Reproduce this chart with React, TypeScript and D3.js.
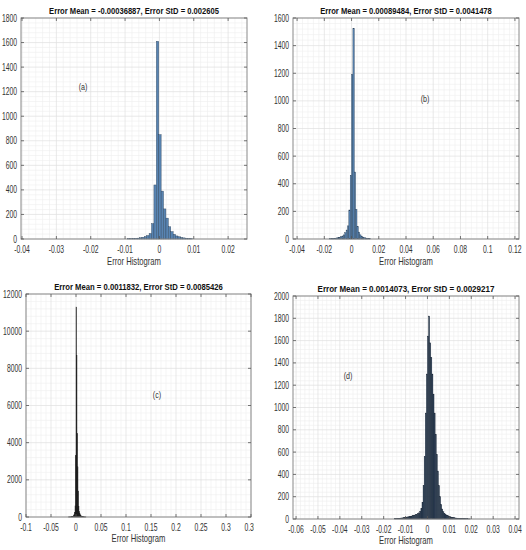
import React from 'react';
import * as d3 from 'd3';

// ---------- DATA ----------
// Panel (a)
const titleA = 'Error Mean = -0.00036887, Error StD = 0.002605';
const binStartA = -0.0093;
const binWidthA = 0.0007;
const countsA = [2, 3, 4, 5, 7, 10, 14, 20, 28, 45, 125, 440, 1610, 850, 390, 245, 170, 100, 60, 38, 25, 18, 13, 9, 6, 4, 2];
const xTicksA = [-0.04, -0.03, -0.02, -0.01, 0, 0.01, 0.02];
const xTickLabelsA = ['-0.04', '-0.03', '-0.02', '-0.01', '0', '0.01', '0.02'];
const yTicksA = [0, 200, 400, 600, 800, 1000, 1200, 1400, 1600, 1800];

// Panel (b)
const titleB = 'Error Mean = 0.00089484, Error StD = 0.0041478';
const binStartB = -0.016;
const binWidthB = 0.001;
const countsB = [2, 3, 4, 5, 6, 8, 10, 13, 17, 22, 30, 45, 65, 95, 210, 460, 1190, 1525, 485, 215, 90, 50, 30, 20, 14, 10, 7, 5, 3, 2];
const xTicksB = [-0.04, -0.02, 0, 0.02, 0.04, 0.06, 0.08, 0.1, 0.12];
const xTickLabelsB = ['-0.04', '-0.02', '0', '0.02', '0.04', '0.06', '0.08', '0.1', '0.12'];
const yTicksB = [0, 200, 400, 600, 800, 1000, 1200, 1400, 1600];

// Panel (c)
const titleC = 'Error Mean = 0.0011832, Error StD = 0.0085426';
const binStartC = -0.015;
const binWidthC = 0.001;
const countsC = [3, 4, 5, 6, 8, 10, 14, 20, 30, 45, 70, 120, 250, 600, 3300, 11300, 8700, 4500, 2700, 1400, 560, 300, 180, 120, 80, 55, 40, 28, 20, 14, 10, 7, 5, 4, 3];
const xTicksC = [-0.1, -0.05, 0, 0.05, 0.1, 0.15, 0.2, 0.25, 0.3, 0.35];
const xTickLabelsC = ['-0.1', '-0.05', '0', '0.05', '0.1', '0.15', '0.2', '0.25', '0.3', '0.35'];
const yTicksC = [0, 2000, 4000, 6000, 8000, 10000, 12000];

// Panel (d)
const titleD = 'Error Mean = 0.0014073, Error StD = 0.0029217';
const binStartD = -0.015;
const binWidthD = 0.0005;
const countsD = [4, 5, 5, 6, 7, 8, 9, 10, 11, 13, 15, 17, 19, 21, 24, 26, 29, 32, 35, 38, 42, 47, 55, 70, 95, 150, 300, 560, 950, 1300, 1640, 1820, 1580, 1450, 1300, 1120, 950, 760, 580, 430, 300, 200, 130, 90, 65, 50, 40, 34, 29, 25, 21, 18, 15, 13, 11, 9, 8, 7, 6, 5, 4, 4, 3, 3, 2, 2, 2, 1, 1];
const xTicksD = [-0.06, -0.05, -0.04, -0.03, -0.02, -0.01, 0, 0.01, 0.02, 0.03, 0.04];
const xTickLabelsD = ['-0.06', '-0.05', '-0.04', '-0.03', '-0.02', '-0.01', '0', '0.01', '0.02', '0.03', '0.04'];
const yTicksD = [0, 200, 400, 600, 800, 1000, 1200, 1400, 1600, 1800, 2000];

const xLabel = 'Error Histogram';
const panelLabels = ['(a)', '(b)', '(c)', '(d)'];

// ---------- LAYOUT ----------
const FONT = "'Liberation Sans', Arial, Helvetica, sans-serif";
const SX = 0.68;

let ctx: CanvasRenderingContext2D | null = null;
function measure(text: string, size: number, bold: boolean) {
  if (!ctx && typeof document !== 'undefined') {
    ctx = document.createElement('canvas').getContext('2d');
  }
  if (!ctx) return text.length * size * 0.55;
  ctx.font = `${bold ? 'bold ' : ''}${size}px 'Liberation Sans', Arial, sans-serif`;
  return ctx.measureText(text).width;
}

type Panel = {
  left: number; right: number; top: number; bottom: number;
  xDomain: [number, number]; yMax: number;
  title: string; titleLen: number; titleY: number;
  binStart: number; binWidth: number; counts: number[];
  xTicks: number[]; xTickLabels: string[]; yTicks: number[];
  fill: string; stroke: string;
  label: string; labelX: number; labelY: number;
  xLabelY: number; clipRight?: number;
};

const panels: Panel[] = [
  {
    left: 21, right: 247, top: 18, bottom: 239, xDomain: [-0.0403, 0.0255], yMax: 1800,
    title: titleA, titleLen: 170, titleY: 13.5,
    binStart: binStartA, binWidth: binWidthA, counts: countsA,
    xTicks: xTicksA, xTickLabels: xTickLabelsA, yTicks: yTicksA,
    fill: '#5884b2', stroke: '#2b4159',
    label: panelLabels[0], labelX: 83, labelY: 90, xLabelY: 265,
  },
  {
    left: 293, right: 519, top: 18, bottom: 239, xDomain: [-0.043, 0.123], yMax: 1600,
    title: titleB, titleLen: 172, titleY: 13.5,
    binStart: binStartB, binWidth: binWidthB, counts: countsB,
    xTicks: xTicksB, xTickLabels: xTickLabelsB, yTicks: yTicksB,
    fill: '#5884b2', stroke: '#2b4159',
    label: panelLabels[1], labelX: 425, labelY: 102, xLabelY: 265,
  },
  {
    left: 26, right: 251, top: 294, bottom: 517, xDomain: [-0.1, 0.35], yMax: 12000,
    title: titleC, titleLen: 169, titleY: 289.5,
    binStart: binStartC, binWidth: binWidthC, counts: countsC,
    xTicks: xTicksC, xTickLabels: xTickLabelsC, yTicks: yTicksC,
    fill: '#1c1c1c', stroke: '#111111',
    label: panelLabels[2], labelX: 157, labelY: 398, xLabelY: 542, clipRight: 254,
  },
  {
    left: 293, right: 519, top: 296, bottom: 519, xDomain: [-0.0614, 0.0418], yMax: 2000,
    title: titleD, titleLen: 177, titleY: 292,
    binStart: binStartD, binWidth: binWidthD, counts: countsD,
    xTicks: xTicksD, xTickLabels: xTickLabelsD, yTicks: yTicksD,
    fill: '#2f4259', stroke: '#1b2635',
    label: panelLabels[3], labelX: 348, labelY: 379, xLabelY: 544,
  },
];

function minorTicks(ticks: number[], domain: [number, number], sub: number) {
  const step = ticks[1] - ticks[0];
  const ms = step / sub;
  const out: number[] = [];
  const start = Math.floor((domain[0] - ticks[0]) / ms);
  const end = Math.ceil((domain[1] - ticks[0]) / ms);
  for (let i = start; i <= end; i++) {
    const v = ticks[0] + i * ms;
    if (i % sub === 0) continue;
    if (v >= domain[0] && v <= domain[1]) out.push(v);
  }
  return out;
}

function HistPanel({ p, idx }: { p: Panel; idx: number }) {
  const x = d3.scaleLinear().domain(p.xDomain).range([p.left, p.right]);
  const y = d3.scaleLinear().domain([0, p.yMax]).range([p.bottom, p.top]);
  const xMinor = minorTicks(p.xTicks, p.xDomain, 5);
  const yMinor = minorTicks(p.yTicks, [0, p.yMax], 5);
  const cx = (p.left + p.right) / 2;
  const clipId = `clip-${idx}`;
  const tick = 3;
  const titleScale = p.titleLen / measure(p.title, 9.5, true);
  const xlScale = 54 / measure(xLabel, 10.5, false);
  return (
    <g clipPath={p.clipRight ? `url(#${clipId})` : undefined}>
      {p.clipRight && (
        <defs>
          <clipPath id={clipId}>
            <rect x={0} y={p.top - 40} width={p.clipRight} height={600} />
          </clipPath>
        </defs>
      )}
      <rect x={p.left} y={p.top} width={p.right - p.left} height={p.bottom - p.top} fill="#ffffff" />
      {xMinor.map((v, i) => (
        <line key={`xm${i}`} x1={x(v)} x2={x(v)} y1={p.top} y2={p.bottom} stroke="#efefef" strokeWidth={0.6} />
      ))}
      {yMinor.map((v, i) => (
        <line key={`ym${i}`} x1={p.left} x2={p.right} y1={y(v)} y2={y(v)} stroke="#efefef" strokeWidth={0.6} />
      ))}
      {p.xTicks.map((v, i) => (
        <line key={`xg${i}`} x1={x(v)} x2={x(v)} y1={p.top} y2={p.bottom} stroke="#e0e0e0" strokeWidth={0.7} />
      ))}
      {p.yTicks.map((v, i) => (
        <line key={`yg${i}`} x1={p.left} x2={p.right} y1={y(v)} y2={y(v)} stroke="#e0e0e0" strokeWidth={0.7} />
      ))}
      {p.counts.map((c, i) => {
        const x0 = x(p.binStart + i * p.binWidth);
        const x1 = x(p.binStart + (i + 1) * p.binWidth);
        return (
          <rect key={`b${i}`} x={x0} y={y(c)} width={Math.max(0.3, x1 - x0)} height={p.bottom - y(c)}
            fill={p.fill} stroke={p.stroke} strokeWidth={0.4} />
        );
      })}
      <rect x={p.left} y={p.top} width={p.right - p.left} height={p.bottom - p.top} fill="none" stroke="#8a8a8a" strokeWidth={1} />
      {p.xTicks.map((v, i) => (
        <g key={`xt${i}`}>
          <line x1={x(v)} x2={x(v)} y1={p.bottom} y2={p.bottom - tick} stroke="#555" strokeWidth={0.8} />
          <line x1={x(v)} x2={x(v)} y1={p.top} y2={p.top + tick} stroke="#555" strokeWidth={0.8} />
          <text transform={`translate(${x(v)},${p.bottom + 14}) scale(${SX},1)`} textAnchor="middle"
            fontFamily={FONT} fontSize={10} fill="#333">{p.xTickLabels[i]}</text>
        </g>
      ))}
      {p.yTicks.map((v, i) => (
        <g key={`yt${i}`}>
          <line x1={p.left} x2={p.left + tick} y1={y(v)} y2={y(v)} stroke="#555" strokeWidth={0.8} />
          <line x1={p.right} x2={p.right - tick} y1={y(v)} y2={y(v)} stroke="#555" strokeWidth={0.8} />
          <text transform={`translate(${p.left - 4},${y(v) + 3.5}) scale(${SX},1)`} textAnchor="end"
            fontFamily={FONT} fontSize={10} fill="#333">{String(v)}</text>
        </g>
      ))}
      <text transform={`translate(${cx},${p.titleY}) scale(${titleScale},1)`} textAnchor="middle"
        fontFamily={FONT} fontSize={9.5} fontWeight="bold" fill="#111">{p.title}</text>
      <text transform={`translate(${cx},${p.xLabelY}) scale(${xlScale},1)`} textAnchor="middle"
        fontFamily={FONT} fontSize={10.5} fill="#333">{xLabel}</text>
      <text transform={`translate(${p.labelX},${p.labelY}) scale(0.75,1)`} textAnchor="middle"
        fontFamily={FONT} fontSize={9.5} fill="#333">{p.label}</text>
    </g>
  );
}

export default function App() {
  return (
    <svg width={526} height={550} viewBox="0 0 526 550" style={{ display: 'block', position: 'absolute', left: 0, top: 0, background: '#fff' }}>
      <rect x={0} y={0} width={526} height={550} fill="#fff" />
      {panels.map((p, i) => <HistPanel key={i} p={p} idx={i} />)}
    </svg>
  );
}
